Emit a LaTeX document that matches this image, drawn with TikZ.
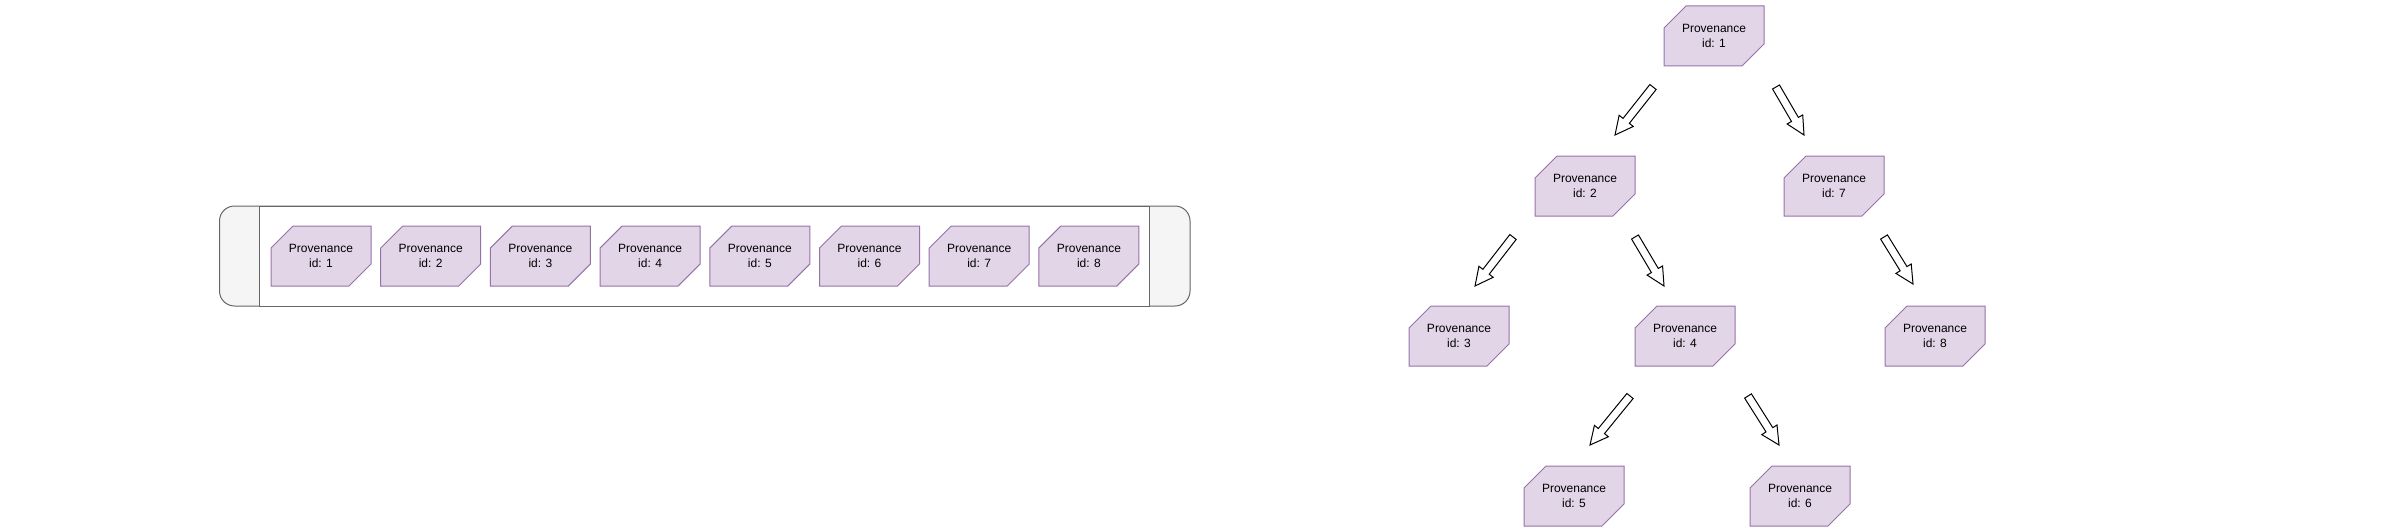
\documentclass[tikz,border=0pt]{standalone}
\usepackage{fontspec}
\setmainfont{Liberation Sans}
\usetikzlibrary{calc,shapes.misc}
\definecolor{provfill}{HTML}{E1D5E7}
\definecolor{provline}{HTML}{9673A6}
\definecolor{capfill}{HTML}{F5F5F5}
\definecolor{capline}{HTML}{666666}
\begin{document}
\begin{tikzpicture}[x=1pt,y=-1pt,line width=1pt,
  prov/.style={chamfered rectangle, chamfered rectangle corners={north west,south east},
    chamfered rectangle xsep=11pt, chamfered rectangle ysep=11pt,
    draw=provline, fill=provfill, minimum width=100pt, minimum height=60pt,
    inner sep=0pt, align=center, font=\fontsize{12}{14.4}\selectfont},
  blockarrow/.style={draw, fill=white, line join=miter}]
  \useasboundingbox (0,0) rectangle (2400,527);
  % queue of records
  \draw[draw=capline, fill=capfill, rounded corners=15pt] (219.5,206) rectangle (1190,306);
  \draw[draw=capline, fill=white] (259,206) rectangle (1149,306);
  \foreach \i in {1,...,8}
    \node[prov] (q\i) at ({321+(\i-1)*109.7},256) {Provenance\\id: \i};
  % tree of records
  \node[prov] (t1) at (1714,36) {Provenance\\id: 1};
  \node[prov] (t2) at (1585,186) {Provenance\\id: 2};
  \node[prov] (t7) at (1834,186) {Provenance\\id: 7};
  \node[prov] (t3) at (1459,336) {Provenance\\id: 3};
  \node[prov] (t4) at (1685,336) {Provenance\\id: 4};
  \node[prov] (t8) at (1935,336) {Provenance\\id: 8};
  \node[prov] (t5) at (1574,496) {Provenance\\id: 5};
  \node[prov] (t6) at (1800,496) {Provenance\\id: 6};
  % block arrows: tail x/y, tip x/y
  \foreach \a/\b/\c/\d [count=\k] in {1653/87/1615/135, 1776/87/1804/135,
      1513/237/1475/286, 1635/237/1664/286, 1884/237/1913/284,
      1630/396/1590/445, 1748/396/1779/445} {
    \coordinate (tail\k) at (\a,\b);
    \coordinate (tip\k) at (\c,\d);
    \coordinate (neck\k) at ($(tip\k)!18pt!(tail\k)$);
    \draw[blockarrow] ($(tail\k)!4pt!90:(tip\k)$) -- ($(neck\k)!4pt!-90:(tail\k)$)
      -- ($(neck\k)!9pt!-90:(tail\k)$) -- (tip\k) -- ($(neck\k)!9pt!90:(tail\k)$)
      -- ($(neck\k)!4pt!90:(tail\k)$) -- ($(tail\k)!4pt!-90:(tip\k)$) -- cycle;
  }
\end{tikzpicture}
\end{document}
